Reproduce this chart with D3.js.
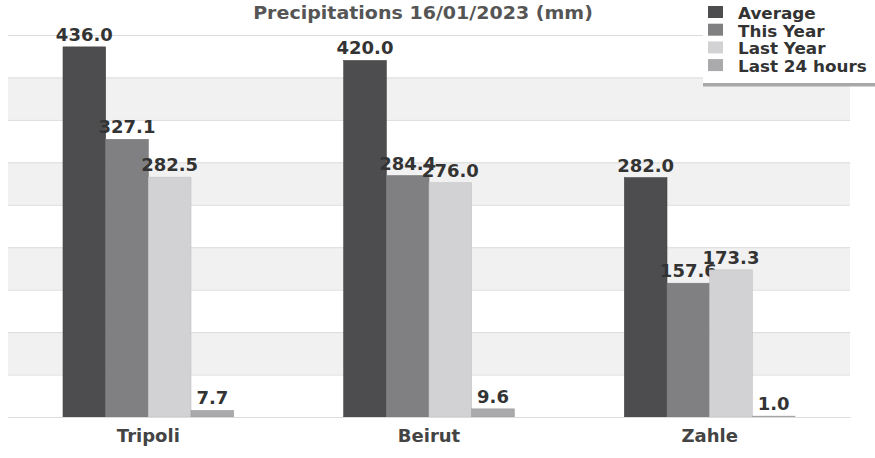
<!DOCTYPE html>
<html>
<head>
<meta charset="utf-8">
<script src="https://cdn.jsdelivr.net/npm/d3@7"></script>
<style>
  body { margin: 0; background: #fff; }
  svg { font-family: "DejaVu Sans", sans-serif; }
</style>
</head>
<body>
<div id="chart"></div>
<script>
// chart data
const cities = ["Tripoli", "Beirut", "Zahle"];
const seriesNames = ["Average", "This Year", "Last Year", "Last 24 hours"];
const average = [436.0, 420.0, 282.0];
const thisYear = [327.1, 284.4, 157.6];
const lastYear = [282.5, 276.0, 173.3];
const last24h = [7.7, 9.6, 1.0];
const yTicks = [0, 50, 100, 150, 200, 250, 300, 350, 400, 450];
const colors = ["#4d4d4f", "#808082", "#d2d2d4", "#aaaaac"];

const W = 875, H = 458;
const margin = { top: 35, right: 25, bottom: 41, left: 8 };
const width = W - margin.left - margin.right;
const height = H - margin.top - margin.bottom;

const svg = d3.select("#chart").append("svg")
    .attr("width", W)
    .attr("height", H);

// bold text, optionally stretched horizontally around its anchor
function label(parent, x, y, txt, size, anchor, fill, stretch = 1) {
    return parent.append("text")
        .attr("transform", `translate(${x},${y}) scale(${stretch},1)`)
        .attr("text-anchor", anchor)
        .attr("font-family", "DejaVu Sans")
        .attr("font-size", size)
        .attr("font-weight", "bold")
        .attr("fill", fill)
        .text(txt);
}

const g = svg.append("g")
    .attr("transform", `translate(${margin.left},${margin.top})`);

const x0 = d3.scaleBand().domain(cities).range([0, width]);
const x1 = d3.scaleBand().domain(seriesNames).range([55, x0.bandwidth() - 55]);
const y = d3.scaleLinear().domain([0, 450]).range([height, 0]);

// alternating bands
for (let i = 1; i < yTicks.length - 1; i += 2) {
    g.append("rect")
        .attr("x", 0)
        .attr("y", y(yTicks[i + 1]))
        .attr("width", width)
        .attr("height", y(yTicks[i]) - y(yTicks[i + 1]))
        .attr("fill", "#f1f1f1");
}

// gridlines
g.append("g")
    .call(d3.axisLeft(y).tickValues(yTicks).tickSize(-width).tickFormat(""))
    .call(a => a.select(".domain").remove())
    .call(a => a.selectAll("line").attr("stroke", "#dcdcdc"));

const seriesValues = [average, thisYear, lastYear, last24h];

// series drawn one after another: bars then their labels
seriesNames.forEach((s, j) => {
    const sg = g.append("g");
    cities.forEach((c, i) => {
        const v = seriesValues[j][i];
        sg.append("rect")
            .attr("x", x0(c) + x1(s))
            .attr("y", y(v))
            .attr("width", x1.bandwidth())
            .attr("height", y(0) - y(v))
            .attr("fill", colors[j])
            .attr("stroke", d3.color(colors[j]).darker(0.2))
            .attr("stroke-width", 0.6);
    });
    cities.forEach((c, i) => {
        const v = seriesValues[j][i];
        label(sg, x0(c) + x1(s) + x1.bandwidth() / 2, y(v) - 6, v.toFixed(1), 18, "middle", "#333");
    });
});

// category axis
const xAxis = g.append("g")
    .attr("transform", `translate(0,${height})`)
    .call(d3.axisBottom(x0).tickSize(0).tickFormat(""))
    .call(a => a.select(".domain").attr("stroke", "#dcdcdc"));
cities.forEach(c => {
    label(xAxis, x0(c) + x0.bandwidth() / 2, 25, c, 18, "middle", "#444");
});

// title
label(svg, 423, 19, "Precipitations 16/01/2023 (mm)", 17, "middle", "#555", 1.12);

// legend
const legend = svg.append("g").attr("transform", "translate(703,0)");
legend.append("rect")
    .attr("x", 0).attr("y", 0).attr("width", 172).attr("height", 83)
    .attr("fill", "#fff");
legend.append("rect")
    .attr("x", 0).attr("y", 83).attr("width", 172).attr("height", 3.5)
    .attr("fill", "#a8a8a8");
seriesNames.forEach((s, i) => {
    legend.append("rect")
        .attr("x", 5)
        .attr("y", 6 + i * 17.7)
        .attr("width", 15)
        .attr("height", 12)
        .attr("fill", colors[i]);
    label(legend, 35, 19 + i * 17.7, s, 15, "start", "#333", 1.12);
});
</script>
</body>
</html>
